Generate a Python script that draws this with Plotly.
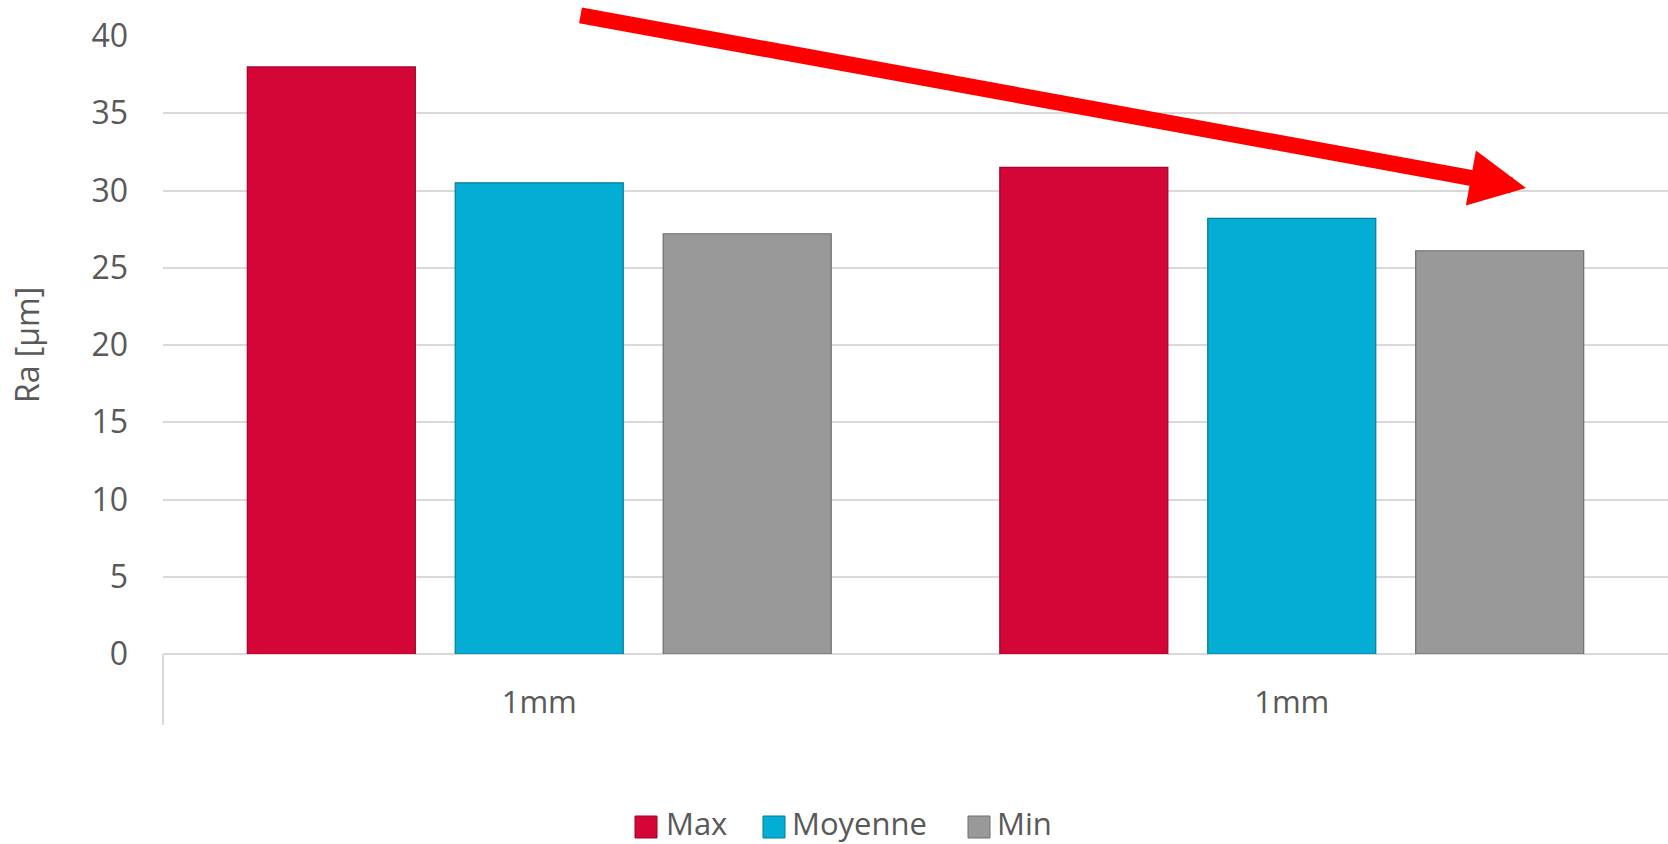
import plotly.graph_objects as go

# ---- data ----
group_labels = ["1mm", "1mm"]
series_names = ["Max", "Moyenne", "Min"]
max_vals = [38.0, 31.5]
moy_vals = [30.5, 28.2]
min_vals = [27.2, 26.1]
y_ticks = [0, 5, 10, 15, 20, 25, 30, 35, 40]
y_title = "Ra [µm]"

colors = {"Max": "#D40637", "Moyenne": "#04ADD3", "Min": "#999999"}
edges = {"Max": "#9E0428", "Moyenne": "#037D99", "Min": "#6E6E6E"}

W, H = 1668, 844
L, R, T, B = 163, 0, 36, 190
PW, PH = W - L - R, H - T - B

def px(X):
    return (X - L) / PW

def py(Y):
    return (H - B - Y) / PH

FONT = "Open Sans"
TXT = "#595959"

xpos = list(range(len(group_labels)))

fig = go.Figure()
for name, vals in zip(series_names, [max_vals, moy_vals, min_vals]):
    fig.add_trace(go.Bar(
        x=xpos, y=vals, name=name,
        marker=dict(color=colors[name], line=dict(color=edges[name], width=1.2)),
        showlegend=False,
    ))

fig.update_layout(
    width=W, height=H,
    margin=dict(l=L, r=R, t=T, b=B, pad=0),
    paper_bgcolor="white", plot_bgcolor="white",
    barmode="group", bargap=0.171, bargroupgap=0.192,
    font=dict(family=FONT, color=TXT, size=32),
)
fig.update_xaxes(
    range=[-0.5, len(group_labels) - 0.5],
    tickvals=xpos, ticktext=group_labels,
    tickfont=dict(size=31, color=TXT, family=FONT),
    showgrid=False, zeroline=False, showline=False, ticks="",
    ticklabelstandoff=27,
)
fig.update_yaxes(
    range=[0, 40], tickvals=y_ticks,
    tickfont=dict(size=32, color=TXT, family=FONT),
    showgrid=True, gridcolor="#D9D9D9", gridwidth=1.5,
    zeroline=True, zerolinecolor="#D9D9D9", zerolinewidth=2,
    showline=False, ticks="", ticklabelstandoff=34,
    title=dict(text=y_title, font=dict(size=32, color=TXT, family=FONT), standoff=42),
)

# left category divider below the axis
fig.add_shape(type="line", xref="paper", yref="paper",
              x0=0, x1=0, y0=0, y1=py(725),
              line=dict(color="#D9D9D9", width=2))

# trend arrow
fig.add_annotation(
    xref="paper", yref="paper", x=px(1526), y=py(188),
    ax=579 - 1526, ay=15 - 188, axref="pixel", ayref="pixel",
    text="", showarrow=True, arrowhead=2, arrowsize=0.7,
    arrowwidth=16, arrowcolor="#FF0000",
)

# custom legend
leg_sq = [635, 763, 968]
leg_tx = [667, 793, 998]
for name, sx, tx in zip(series_names, leg_sq, leg_tx):
    fig.add_shape(type="rect", xref="paper", yref="paper",
                  x0=px(sx), x1=px(sx + 22), y0=py(838), y1=py(816),
                  fillcolor=colors[name], line=dict(color=edges[name], width=1))
    fig.add_annotation(xref="paper", yref="paper", x=px(tx - 3), y=py(823),
                       xanchor="left", yanchor="middle", showarrow=False,
                       text=name, font=dict(size=31, color=TXT, family=FONT))

fig.write_html("out.html")
